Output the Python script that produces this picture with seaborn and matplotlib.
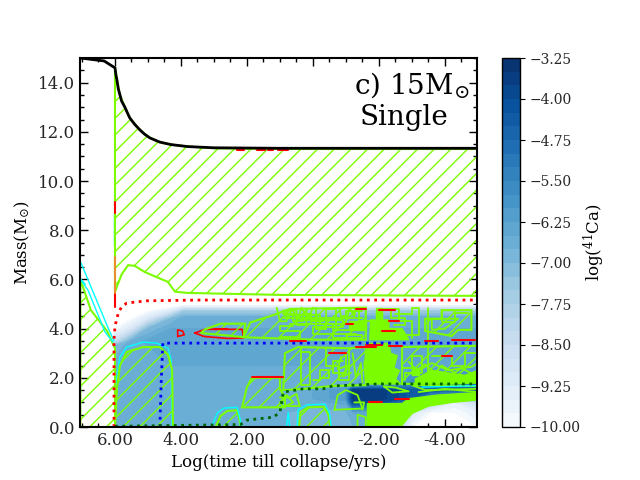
import numpy as np
import seaborn as sns
import matplotlib.pyplot as plt

sns.set_style("ticks")
plt.rcParams["font.family"] = ["DejaVu Serif"]
plt.rcParams["mathtext.fontset"] = "dejavuserif"
plt.rcParams["hatch.color"] = "#7cfc00"
plt.rcParams["hatch.linewidth"] = 1.0

GREEN = "#7cfc00"
CYAN = "#00ffff"
RED = "#ff0000"

# -----------------------
# Abundance map
# -----------------------

time_grid = [6.0, 5.5, 5.0, 4.3, 3.9, 2.0, 0.0, -1.0, -1.2, -2.0, -2.6, -3.0, -3.6, -4.3, -5.0]
mass_grid = [0, 0.6, 1.0, 1.15, 1.5, 1.7, 2.5, 3.3, 3.5, 4.0, 4.4, 4.7, 4.95, 5.05, 15]

# one row per time_grid entry, one value per mass_grid entry
ca41 = [
    [-6.6, -6.6, -6.6, -6.6, -6.6, -6.6, -6.6, -7.0, -8.5, -10, -10, -10, -10.5, -11, -11],
    [-6.5, -6.5, -6.5, -6.5, -6.5, -6.5, -6.5, -6.5, -6.7, -9.0, -10, -10, -10.5, -11, -11],
    [-6.5, -6.5, -6.5, -6.5, -6.5, -6.5, -6.5, -6.5, -6.4, -7.0, -9.0, -10, -10.5, -11, -11],
    [-6.5, -6.5, -6.5, -6.5, -6.5, -6.5, -6.5, -6.4, -6.3, -6.5, -7.0, -9.0, -10.5, -11, -11],
    [-6.5, -6.5, -6.5, -6.5, -6.5, -6.5, -6.5, -6.3, -6.3, -6.5, -6.5, -7.5, -10, -11, -11],
    [-6.5, -6.5, -6.5, -6.5, -6.5, -6.5, -6.5, -6.3, -6.3, -6.5, -6.5, -7.5, -10, -11, -11],
    [-6.9, -6.9, -6.6, -6.5, -6.5, -6.5, -6.5, -6.3, -6.3, -6.5, -6.5, -7.5, -10, -11, -11],
    [-6.8, -6.8, -6.4, -6.0, -6.0, -6.5, -6.5, -6.3, -6.3, -6.5, -6.5, -7.5, -10, -11, -11],
    [-6.8, -6.5, -4.0, -3.6, -3.6, -6.5, -6.5, -6.3, -6.3, -6.5, -6.5, -7.5, -10, -11, -11],
    [-6.5, -6.2, -4.0, -3.6, -3.6, -6.0, -6.5, -6.3, -6.3, -6.5, -6.5, -7.5, -10, -11, -11],
    [-8.0, -7.0, -5.0, -4.0, -4.0, -6.0, -6.5, -6.3, -6.3, -6.5, -6.5, -7.5, -10, -11, -11],
    [-10, -9.0, -7.0, -4.5, -4.4, -5.5, -6.5, -6.3, -6.3, -6.5, -6.5, -7.5, -10, -11, -11],
    [-10, -10, -8.0, -6.5, -4.5, -5.0, -6.5, -6.3, -6.3, -6.5, -6.5, -7.5, -10, -11, -11],
    [-10, -10, -9.5, -7.5, -4.5, -5.0, -6.5, -6.3, -6.3, -6.5, -6.5, -7.5, -10, -11, -11],
    [-10, -9.5, -8.5, -7.0, -4.5, -5.0, -6.5, -6.3, -6.3, -6.5, -6.5, -7.5, -10, -11, -11],
]

cbar_ticks = [-3.25, -4.0, -4.75, -5.5, -6.25, -7.0, -7.75, -8.5, -9.25, -10.0]
levels = np.linspace(-10, -3.25, 28)

# -----------------------
# Stellar structure lines
# -----------------------

total_t = [7.05, 6.33, 6.0, 5.97, 5.94, 5.9, 5.85, 5.8, 5.7, 5.6, 5.55, 5.4, 5.24, 5.1, 4.94, 4.64, 4.3, 3.8, 3.0, 1.0, -5.0]
total_m = [15.0, 14.88, 14.6, 14.3, 14.1, 13.75, 13.5, 13.25, 13.0, 12.7, 12.56, 12.3, 12.07, 11.9, 11.75, 11.58, 11.48, 11.4, 11.35, 11.33, 11.33]

red_t = [6.03, 6.03, 6.0, 5.9, 5.8, 5.64, 5.03, 3.5, -5.0]
red_m = [0.0, 3.54, 4.1, 4.63, 4.88, 5.04, 5.13, 5.16, 5.16]

blue_t = [4.64, 4.6, 4.55, 4.3, -5.0]
blue_m = [0.0, 1.8, 3.41, 3.41, 3.41]

dgreen_t = [6.0, 2.2, 2.0, 1.2, 1.0, 0.9, 0.3, -0.3, -0.6, -2.0, -5.0]
dgreen_m = [0.03, 0.1, 0.28, 0.4, 0.6, 1.42, 1.55, 1.55, 1.67, 1.75, 1.75]

# hatched convective zones: (time, mass)
envelope = [(6.0, 14.6), (5.94, 14.1), (5.85, 13.5), (5.7, 13.0), (5.55, 12.56), (5.24, 12.07),
            (4.94, 11.75), (4.64, 11.58), (4.3, 11.48), (3.8, 11.4), (3.0, 11.33), (1.0, 11.3),
            (-5.0, 11.3), (-5.0, 5.33), (1.0, 5.37), (3.8, 5.45), (4.18, 5.5), (4.4, 5.9),
            (5.1, 6.3), (5.4, 6.55), (5.6, 6.58), (5.8, 6.2), (6.0, 5.5)]
left_zone = [(7.05, 6.0), (6.73, 4.75), (6.24, 3.9), (6.0, 3.2), (6.0, 0.0), (7.05, 0.0)]
core_he = [(6.0, 0.0), (5.94, 1.6), (5.85, 2.5), (5.64, 3.05), (5.15, 3.25), (4.64, 3.25),
           (4.39, 2.93), (4.27, 2.32), (4.24, 0.0)]
bump_a = [(2.95, 0.0), (2.8, 0.45), (2.6, 0.65), (2.3, 0.68), (2.22, 0.25), (2.2, 0.0)]
bump_b = [(0.42, 0.0), (0.38, 0.6), (0.15, 0.8), (-0.33, 0.82), (-0.47, 0.5), (-0.52, 0.0)]
zone_a = [(2.15, 0.8), (2.0, 1.63), (1.85, 2.0), (1.0, 2.0), (1.0, 1.55), (0.85, 1.2), (0.85, 0.8)]
zone_b = [(0.9, 1.5), (0.85, 3.0), (0.45, 3.25), (-1.12, 3.2), (-1.6, 3.25), (-1.6, 1.7), (-0.6, 1.67), (0.3, 1.55)]
zone_c = [(2.1, 3.65), (1.9, 4.25), (1.2, 4.55), (0.7, 4.8), (-1.6, 4.85), (-1.6, 3.55), (0.0, 3.55)]
zone_d = [(-2.7, 1.75), (-2.7, 3.25), (-5.0, 3.3), (-5.0, 1.8)]
zone_e = [(-3.4, 3.9), (-3.4, 4.4), (-3.9, 4.4), (-3.9, 4.75), (-4.8, 4.75), (-4.8, 3.95), (-4.4, 3.95), (-4.2, 3.7)]
zone_f = [(3.27, 3.97), (2.8, 4.2), (2.05, 4.2), (2.1, 3.65), (2.6, 3.72), (3.4, 3.82)]
hatched_zones = [envelope, left_zone, core_he, bump_a, bump_b, zone_a, zone_b, zone_c, zone_d, zone_e, zone_f]

# solid burning patches
solid_zones = [
    [(-1.6, 1.75), (-1.55, 2.6), (-1.62, 3.0), (-1.6, 3.4), (-2.3, 3.4), (-2.35, 3.0), (-2.55, 2.9),
     (-2.45, 2.4), (-2.62, 2.3), (-2.5, 1.95), (-2.65, 1.75)],
    [(-1.65, 0.0), (-1.65, 0.95), (-2.0, 0.95), (-2.7, 0.95), (-2.9, 1.15), (-3.2, 1.2), (-3.8, 1.3),
     (-5.0, 1.4), (-5.0, 1.1), (-4.2, 1.0), (-3.5, 0.85), (-3.0, 0.55), (-2.65, 0.0), (-2.55, 0.1),
     (-2.48, 0.0)],
    [(-1.72, 3.55), (-1.75, 4.35), (-2.3, 4.35), (-2.3, 4.0), (-2.7, 4.0), (-2.9, 3.55)],
    [(-1.1, 3.95), (-1.1, 4.3), (-1.6, 4.3), (-1.6, 3.95)],
    [(-3.1, 1.95), (-3.6, 2.3), (-4.6, 2.1), (-5.0, 2.3), (-5.0, 1.8), (-3.1, 1.8)],
    [(-1.9, 4.85), (-2.1, 4.85), (-2.1, 4.4), (-1.9, 4.4)],
    [(-3.0, 2.4), (-3.2, 2.4), (-3.2, 2.1), (-3.0, 2.1)],
]

# noisy outlines of the shell flashes
noise_lines = [
    [(1.1, 4.85), (1.0, 4.3), (0.8, 4.3), (0.8, 4.75), (0.5, 4.75), (0.5, 4.15), (0.2, 4.15), (0.2, 4.8)],
    [(0.7, 4.55), (-0.2, 4.55), (-0.2, 4.2), (-1.0, 4.2), (-1.0, 4.7), (-1.5, 4.7)],
    [(0.4, 4.35), (-0.9, 4.35), (-0.9, 4.05), (0.0, 4.05), (0.0, 3.8), (-1.3, 3.8)],
    [(-0.1, 4.85), (-0.1, 4.0), (-0.4, 4.0), (-0.4, 4.8), (-0.7, 4.8), (-0.7, 3.9)],
    [(1.0, 3.65), (0.4, 3.65), (0.4, 3.9), (1.0, 3.9), (1.0, 4.1), (0.6, 4.1)],
    [(0.9, 4.6), (0.6, 4.6), (0.6, 4.3), (0.3, 4.3), (0.3, 4.6), (0.05, 4.6), (0.05, 4.3), (-0.3, 4.3)],
    [(0.9, 4.45), (-1.5, 4.45)],
    [(0.7, 4.2), (-0.6, 4.2), (-0.6, 3.95), (-1.5, 3.95)],
    [(0.9, 4.75), (0.75, 4.4), (0.65, 4.8), (0.45, 4.4), (0.35, 4.85), (0.15, 4.4), (0.0, 4.85)],
    [(-0.8, 4.85), (-0.85, 4.5), (-1.05, 4.5), (-1.1, 4.85), (-1.25, 4.5), (-1.3, 4.85)],
    [(-1.0, 3.75), (-1.5, 3.75), (-1.5, 3.6), (-0.6, 3.6), (-0.6, 3.85)],
    [(-1.4, 4.8), (-1.4, 4.3), (-2.0, 4.3), (-2.0, 4.8), (-2.6, 4.8), (-2.6, 4.3), (-3.0, 4.3), (-3.0, 3.6)],
    [(-2.5, 4.6), (-3.0, 4.6), (-3.0, 4.85), (-3.2, 4.85), (-3.2, 3.75), (-2.7, 3.75)],
    [(-2.35, 4.75), (-2.35, 4.45), (-2.8, 4.45), (-2.8, 4.15), (-2.45, 4.15)],
    [(-3.5, 4.85), (-3.5, 1.8)],
    [(-3.9, 4.75), (-3.9, 4.25), (-4.3, 4.25), (-4.3, 4.65), (-4.7, 4.65)],
    [(-4.0, 4.0), (-4.4, 4.4), (-3.6, 4.4), (-3.6, 3.95), (-4.0, 4.0)],
    [(0.35, 3.2), (0.35, 1.7), (0.1, 1.7), (0.1, 3.05), (0.35, 3.05)],
    [(-0.4, 3.2), (-0.4, 2.5), (-0.8, 2.5), (-0.8, 1.9), (-1.1, 1.9), (-1.1, 3.2)],
    [(-0.7, 3.0), (-1.0, 3.0), (-1.0, 2.2), (-0.6, 2.2), (-0.6, 2.7), (-0.9, 2.7)],
    [(-0.85, 2.85), (-0.75, 2.35), (-1.05, 2.5), (-0.9, 2.05), (-1.15, 2.2)],
    [(-0.2, 2.0), (-0.5, 2.0), (-0.5, 2.3), (-0.2, 2.3), (-0.2, 1.9), (0.0, 1.9)],
    [(-1.2, 3.0), (-1.3, 2.0), (-1.45, 2.6), (-1.5, 1.8)],
    [(-2.7, 3.2), (-2.7, 2.4), (-3.0, 2.4), (-3.0, 2.9), (-3.3, 2.9), (-3.3, 2.2), (-2.8, 2.2), (-2.8, 1.9)],
    [(-3.6, 2.9), (-4.2, 2.9), (-4.2, 2.5), (-4.6, 2.5), (-4.6, 3.0), (-5.0, 3.0)],
    [(-3.0, 2.15), (-3.6, 2.6), (-4.1, 2.3), (-4.8, 2.45), (-5.0, 2.6)],
    [(-2.9, 2.65), (-3.15, 2.3), (-3.4, 2.55), (-3.7, 2.2), (-3.9, 2.5), (-4.3, 2.2), (-4.5, 2.4), (-4.9, 2.1)],
    [(0.9, 0.8), (1.0, 1.0), (0.8, 1.3), (0.6, 1.0), (0.9, 0.8)],
    [(1.0, 1.2), (0.7, 1.2), (0.5, 1.35), (0.4, 0.85), (0.9, 0.85)],
    [(-0.65, 0.7), (-0.75, 1.3), (-1.0, 1.5), (-1.35, 1.3), (-1.5, 0.75), (-0.65, 0.7)],
    [(-1.5, 0.7), (-1.55, 1.0), (-1.25, 1.0)],
    [(-2.15, 1.65), (-2.5, 1.6), (-2.9, 1.45), (-2.4, 1.4), (-2.15, 1.65)],
    [(-3.0, 1.7), (-4.2, 1.7), (-5.0, 1.65), (-5.0, 1.55), (-3.4, 1.5), (-3.0, 1.7)],
    [(-3.2, 1.42), (-4.0, 1.55), (-5.0, 1.42)],
    [(-1.6, 0.0), (-1.6, 0.4), (-1.35, 0.5), (-1.35, 0.0)],
]

# thin red edges, each is a short segment
red_bits = [
    ([2.3, 2.1], [11.28, 11.28]), ([1.7, 1.45], [11.28, 11.28]), ([1.35, 1.2], [11.28, 11.28]),
    ([1.05, 0.75], [11.28, 11.28]), ([6.0, 6.0], [9.15, 8.7]), ([6.0, 6.0], [5.45, 4.88]),
    ([1.85, 0.9], [2.03, 2.03]), ([-0.5, -1.0], [3.0, 3.0]), ([-1.3, -1.9], [3.25, 3.25]),
    ([-1.6, -2.1], [3.35, 3.35]), ([-2.3, -2.7], [3.3, 3.3]), ([-3.4, -3.8], [3.5, 3.5]),
    ([-4.2, -4.9], [3.52, 3.52]), ([-1.3, -1.6], [4.8, 4.8]), ([-2.0, -2.5], [4.75, 4.75]),
    ([-1.0, -1.2], [4.2, 4.2]), ([-2.1, -2.5], [3.9, 3.9]), ([-1.7, -2.1], [1.0, 1.0]),
    ([-2.5, -2.9], [1.15, 1.15]), ([-2.3, -2.6], [4.3, 4.3]), ([-3.9, -4.2], [2.9, 2.9]),
    ([3.0, 2.6], [4.0, 4.0]), ([0.7, 0.2], [3.5, 3.5]),
]
red_blob = [(3.58, 3.82), (3.27, 3.97), (2.15, 3.97), (2.1, 3.62), (2.6, 3.6), (3.3, 3.68), (3.58, 3.82)]
small_blob = [(4.1, 3.68), (4.1, 3.95), (3.95, 3.9), (3.9, 3.75), (4.1, 3.68)]
orange_t = [6.0, 6.0]
orange_m = [6.9, 5.45]

xtick_pos = [6, 4, 2, 0, -2, -4]
xtick_labels = ["6.00", "4.00", "2.00", "0.00", "-2.00", "-4.00"]
ytick_pos = [0, 2, 4, 6, 8, 10, 12, 14]

# -----------------------
# Figure
# -----------------------

fig = plt.figure(figsize=(6.4, 4.8), dpi=100)
ax = fig.add_axes([80 / 640, 53 / 480, 397 / 640, 369 / 480])
cax = fig.add_axes([502 / 640, 53 / 480, 18 / 640, 369 / 480])


def line(xs, ys, color, lw=1.5, **kw):
    sns.lineplot(x=xs, y=ys, sort=False, estimator=None, color=color, linewidth=lw, ax=ax, legend=False, **kw)


cs = ax.contourf(time_grid, mass_grid, np.array(ca41).T, levels=levels,
                 cmap=sns.color_palette("Blues", as_cmap=True), zorder=1)

for zone in hatched_zones:
    ax.fill([p[0] for p in zone], [p[1] for p in zone], facecolor="none", edgecolor=GREEN,
            hatch="//", linewidth=1.5, zorder=3)

for zone in solid_zones:
    ax.fill([p[0] for p in zone], [p[1] for p in zone], color=GREEN, linewidth=1, zorder=3)

for pts in noise_lines:
    line([p[0] for p in pts], [p[1] for p in pts], GREEN, lw=1.3, zorder=3)

for xs, ys in red_bits:
    line(xs, ys, RED, lw=1.5, zorder=4)

line([p[0] for p in red_blob], [p[1] for p in red_blob], RED, lw=1.2, zorder=2.5)
line([p[0] for p in small_blob], [p[1] for p in small_blob], RED, lw=1.2, zorder=4)
line(orange_t, orange_m, "#e89030", lw=1.5, zorder=4)

# cyan edges
line([7.03, 6.2, 6.03], [6.67, 4.0, 3.5], CYAN, lw=1, zorder=4)
line([7.03, 6.82, 6.3, 6.06], [5.97, 5.57, 3.86, 3.45], CYAN, lw=1, zorder=4)
line([7.03, 6.9], [6.0, 5.8], CYAN, lw=1, zorder=4)
line([6.0, 5.94, 5.85, 5.64, 5.15, 4.73, 4.39, 4.3, 4.27], [0, 2.03, 2.85, 3.25, 3.45, 3.41, 3.2, 2.72, 0], CYAN, lw=1, zorder=2.5)
line([3.05, 2.9, 2.7, 2.3, 2.2, 2.2], [0.07, 0.57, 0.77, 0.8, 0.28, 0.0], CYAN, lw=1, zorder=4)
line([0.48, 0.45, 0.18, -0.36, -0.5, -0.55], [0.0, 0.7, 0.9, 0.93, 0.57, 0.0], CYAN, lw=1, zorder=4)
line([0.8, 0.75, 0.7], [0.0, 0.6, 0.0], CYAN, lw=1, zorder=4)
line([-3.3, -5.0], [1.62, 1.68], CYAN, lw=1, zorder=4)
line([6.02, 6.02], [8.7, 7.4], CYAN, lw=1, zorder=2)

line(red_t, red_m, RED, lw=2, linestyle=":", zorder=5)
line(blue_t, blue_m, "#0000ff", lw=2, linestyle=":", zorder=5)
line(dgreen_t, dgreen_m, "#006400", lw=2, linestyle=":", zorder=5)
line(total_t, total_m, "black", lw=2, zorder=6)

ax.text(-1.24, 13.55, r"c) 15M$_{\odot}$", fontsize=20, color="black", zorder=7)
ax.text(-1.4, 12.27, "Single", fontsize=20, color="black", zorder=7)

ax.set_xlim(7.06, -4.97)
ax.set_ylim(0, 15)
ax.set_xticks(xtick_pos)
ax.set_xticklabels(xtick_labels)
ax.set_yticks(ytick_pos)
ax.set_yticklabels(["%.1f" % v for v in ytick_pos])
ax.set_xticks(np.arange(-4.5, 7.5, 0.5), minor=True)
ax.set_yticks(np.arange(0, 15.5, 0.5), minor=True)
ax.tick_params(which="both", direction="in", top=True, right=True, width=1, labelsize=12, color="black")
ax.tick_params(which="major", length=6)
ax.tick_params(which="minor", length=3)
for s in ax.spines.values():
    s.set_linewidth(1.5)
    s.set_color("black")
    s.set_zorder(10)
ax.set_xlabel("Log(time till collapse/yrs)", fontsize=12, color="black")
ax.set_ylabel(r"Mass(M$_{\odot}$)", fontsize=12, color="black")

cb = fig.colorbar(cs, cax=cax, ticks=cbar_ticks)
cb.ax.set_yticklabels(["\u2212%.2f" % abs(v) for v in cbar_ticks])
cb.ax.tick_params(labelsize=10, length=3.5, width=0.8, direction="out", color="black")
cb.outline.set_linewidth(1)
cb.outline.set_edgecolor("black")
cb.set_label(r"log($^{41}$Ca)", fontsize=12, color="black", labelpad=1)

fig.savefig("out.png", dpi=100)
